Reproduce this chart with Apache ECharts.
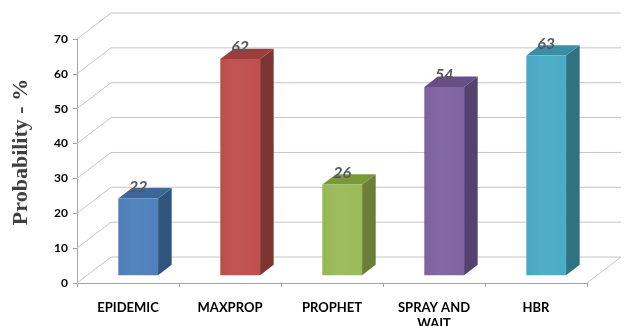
<!DOCTYPE html>
<html>
<head>
<meta charset="utf-8">
<script src="https://cdn.jsdelivr.net/npm/echarts@6/dist/echarts.min.js"></script>
<style>
  html, body { margin: 0; padding: 0; background: #fff; }
  #chart { width: 626px; height: 326px; }
</style>
</head>
<body>
<div id="chart"></div>
<script>
// Delivery probability per routing protocol
const categories = ['EPIDEMIC', 'MAXPROP', 'PROPHET', 'SPRAY AND\nWAIT', 'HBR'];
const probability = [22, 62, 26, 54, 63];
const yTicks = [0, 10, 20, 30, 40, 50, 60, 70];

// Face colours per bar: front, side, top
const frontColors = ['#4F81BD', '#C0504D', '#9BBB59', '#8064A2', '#4BACC6'];
const sideColors  = ['#30547E', '#7D3533', '#6B7F38', '#56426F', '#2F7281'];
const topColors   = ['#3C6798', '#9B3D3A', '#7A9939', '#674F86', '#3A8FA5'];

// Pseudo-3D depth of the plot box (pixels), and bar placement within it
const DEPTH_X = 34, DEPTH_Y = -26;
const BAR_FRONT = 0.3, BAR_BACK = 0.7;
const GRID_COLOR = '#C4C4C4';
const AXIS_COLOR = '#A6A6A6';

function shade(hex, f) {
  const n = parseInt(hex.slice(1), 16);
  const ch = [(n >> 16) & 255, (n >> 8) & 255, n & 255].map(c =>
    Math.max(0, Math.min(255, Math.round(f > 0 ? c + (255 - c) * f : c * (1 + f)))));
  return 'rgb(' + ch.join(',') + ')';
}

const chart = echarts.init(document.getElementById('chart'));

chart.setOption({
  animation: false,
  grid: { left: 77, right: 39, top: 39, bottom: 43, containLabel: false, outerBoundsMode: 'none' },
  xAxis: {
    type: 'category',
    data: categories,
    axisLine: { lineStyle: { color: AXIS_COLOR, width: 1 } },
    axisTick: { show: true, length: 4, lineStyle: { color: AXIS_COLOR } },
    axisLabel: {
      color: '#000', fontFamily: 'Lato', fontWeight: 'bold', fontSize: 13,
      margin: 17, lineHeight: 16, interval: 0
    }
  },
  yAxis: {
    type: 'value',
    min: 0, max: 70, interval: 10,
    name: 'Probability - %',
    nameLocation: 'middle',
    nameGap: 45,
    nameTextStyle: {
      color: '#404040', fontFamily: 'Liberation Serif', fontWeight: 'bold', fontSize: 22,
      padding: [0, 0, 0, 18]
    },
    axisLine: { show: true, lineStyle: { color: AXIS_COLOR, width: 1 } },
    axisTick: { show: true, length: 4, lineStyle: { color: AXIS_COLOR } },
    axisLabel: { color: '#000', fontFamily: 'Lato', fontWeight: 'bold', fontSize: 12, margin: 9 },
    splitLine: { show: false }
  },
  series: [
    {
      // side wall diagonals, back wall gridlines and floor edge
      type: 'custom',
      silent: true,
      z: 1,
      data: yTicks.map(v => [0, v]),
      renderItem: function (params, api) {
        const v = api.value(1);
        const bandW = api.size([1, 0])[0];
        const leftPt = api.coord([0, v]);
        const rightPt = api.coord([categories.length - 1, v]);
        const xL = leftPt[0] - bandW / 2;
        const xR = rightPt[0] + bandW / 2;
        const y = leftPt[1];
        const style = { stroke: GRID_COLOR, lineWidth: 1, fill: null };
        const children = [
          { type: 'line', shape: { x1: xL, y1: y, x2: xL + DEPTH_X, y2: y + DEPTH_Y }, style: style },
          { type: 'line', shape: { x1: xL + DEPTH_X, y1: y + DEPTH_Y, x2: xR + DEPTH_X, y2: y + DEPTH_Y }, style: style }
        ];
        if (v === 0) {
          children.push({ type: 'line', shape: { x1: xR, y1: y, x2: xR + DEPTH_X, y2: y + DEPTH_Y }, style: style });
        }
        return { type: 'group', children: children };
      }
    },
    {
      // 3D-looking bars: front, side and top faces
      type: 'custom',
      z: 3,
      data: probability.map((v, i) => [i, v]),
      renderItem: function (params, api) {
        const i = api.value(0);
        const v = api.value(1);
        const bandW = api.size([1, 0])[0];
        const base = api.coord([i, 0]);
        const top = api.coord([i, v]);
        const barW = bandW * 0.39;
        const fx = DEPTH_X * BAR_FRONT, fy = DEPTH_Y * BAR_FRONT;
        const dx = DEPTH_X * (BAR_BACK - BAR_FRONT), dy = DEPTH_Y * (BAR_BACK - BAR_FRONT);
        const x0 = base[0] + fx - barW / 2;
        const x1 = x0 + barW;
        const yb = base[1] + fy;
        const yt = top[1] + fy;
        const front = frontColors[i];
        return {
          type: 'group',
          children: [
            {
              type: 'polygon',
              shape: { points: [[x1, yb], [x1 + dx, yb + dy], [x1 + dx, yt + dy], [x1, yt]] },
              style: { fill: sideColors[i] }
            },
            {
              type: 'polygon',
              shape: { points: [[x0, yt], [x1, yt], [x1 + dx, yt + dy], [x0 + dx, yt + dy]] },
              style: { fill: topColors[i] }
            },
            {
              type: 'rect',
              shape: { x: x0, y: yt, width: barW, height: yb - yt },
              style: {
                fill: new echarts.graphic.LinearGradient(0, 0, 1, 0, [
                  { offset: 0, color: shade(front, -0.03) },
                  { offset: 0.35, color: shade(front, 0.03) },
                  { offset: 1, color: front }
                ])
              }
            },
            {
              type: 'text',
              style: {
                text: String(v),
                x: (x0 + x1) / 2,
                y: yt - 12,
                align: 'center',
                verticalAlign: 'middle',
                fill: '#595959',
                font: 'italic bold 16px Lato'
              }
            }
          ]
        };
      }
    }
  ]
});
</script>
</body>
</html>
